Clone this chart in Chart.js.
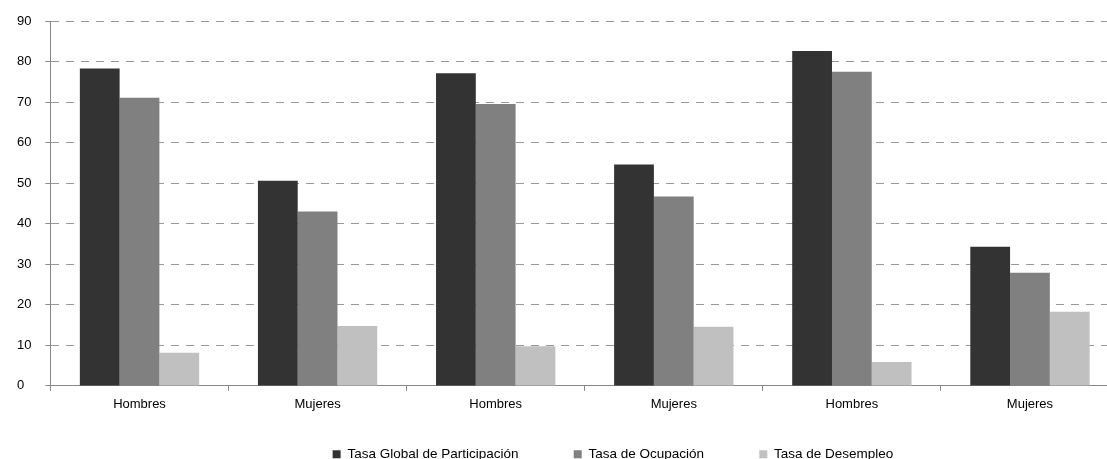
<!DOCTYPE html>
<html>
<head>
<meta charset="utf-8">
<script src="https://cdn.jsdelivr.net/npm/chart.js@4"></script>
<style>
  html, body { margin: 0; padding: 0; background: #fff; overflow: hidden; }
  #wrap { width: 1119px; height: 471px; }
</style>
</head>
<body>
<div id="wrap"><canvas id="empleoChart"></canvas></div>
<script>
const categories = ["Hombres", "Mujeres", "Hombres", "Mujeres", "Hombres", "Mujeres"];
const seriesNames = ["Tasa Global de Participación", "Tasa de Ocupación", "Tasa de Desempleo"];
const tgp = [78.3, 50.6, 77.1, 54.6, 82.6, 34.3];
const to = [71.1, 43.0, 69.5, 46.7, 77.5, 27.9];
const td = [8.2, 14.8, 9.8, 14.6, 5.9, 18.3];
const yTicks = [0, 10, 20, 30, 40, 50, 60, 70, 80, 90];

const colors = ["#333333", "#808080", "#c0c0c0"];
// extra blank space after each legend entry, and sideways shift of the legend row
const legendGaps = [7, 7, 0];
const legendShift = 45;

// the legend row sits right of centre in the original
const legendOffset = {
    id: "legendOffset",
    afterLayout(chart) {
        chart.legend.left += legendShift;
        chart.legend.right += legendShift;
    }
};

document.addEventListener("DOMContentLoaded", () => {

    Chart.defaults.font.family = "'Liberation Sans', Arial, sans-serif";
    Chart.defaults.font.size = 13;
    Chart.defaults.color = "#000";

    const canvas = document.getElementById("empleoChart");

    new Chart(canvas, {
        type: "bar",
        data: {
            labels: categories,
            datasets: [tgp, to, td].map((values, i) => ({
                label: seriesNames[i],
                data: values,
                backgroundColor: colors[i],
                borderWidth: 0,
                categoryPercentage: 0.67,
                barPercentage: 1
            }))
        },
        plugins: [legendOffset],
        options: {
            responsive: true,
            maintainAspectRatio: false,
            animation: false,
            layout: {
                padding: { left: 17, top: 21, right: 0, bottom: 0 }
            },
            plugins: {
                tooltip: { enabled: false },
                legend: {
                    position: "bottom",
                    labels: {
                        boxWidth: 8,
                        boxHeight: 8,
                        padding: 29,
                        color: "#000",
                        font: { size: 13.5 },
                        generateLabels(chart) {
                            const items = Chart.defaults.plugins.legend.labels.generateLabels(chart);
                            items.forEach((item, i) => {
                                item.text += "\u00a0".repeat(legendGaps[i]);
                                item.lineWidth = 0;
                            });
                            return items;
                        }
                    }
                }
            },
            scales: {
                x: {
                    grid: {
                        drawOnChartArea: false,
                        tickLength: 5,
                        color: "#888"
                    },
                    border: { color: "#888", width: 1 },
                    ticks: { padding: 6 }
                },
                y: {
                    min: 0,
                    max: 90,
                    afterBuildTicks(scale) {
                        scale.ticks = yTicks.map(v => ({ value: v }));
                    },
                    grid: {
                        color: "#999",
                        tickLength: 5,
                        tickColor: "#888"
                    },
                    border: { color: "#888", width: 1, dash: [8, 7] },
                    ticks: {
                        crossAlign: "far",
                        padding: 7
                    }
                }
            }
        }
    });

});
</script>
</body>
</html>
